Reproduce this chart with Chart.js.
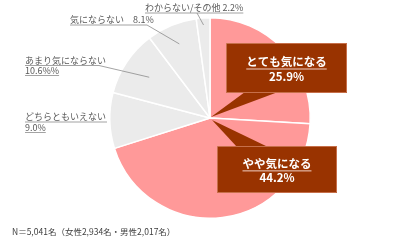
<!DOCTYPE html>
<html><head><meta charset="utf-8">
<script src="https://cdn.jsdelivr.net/npm/chart.js@4.4.0/dist/chart.umd.min.js"></script>
<style>html,body{margin:0;padding:0;background:#fff;}#wrap{width:400px;height:241px;position:relative;}</style>
</head><body>
<div id="wrap"><canvas id="c" width="400" height="241"></canvas></div>
<script>
const categories = ['とても気になる','やや気になる','どちらともいえない','あまり気にならない','気にならない','わからない/その他'];
const values = [25.9, 44.2, 9.0, 10.6, 8.1, 2.2];
const valueLabels = ['25.9%','44.2%','9.0%','10.6%%','8.1%','2.2%'];
const sliceColors = ['#ff9999','#ff9999','#ebebeb','#ebebeb','#ebebeb','#ebebeb'];
const footnote = 'N＝5,041名（女性2,934名・男性2,017名）';

const JP = '"Noto Sans CJK JP","Noto Sans",sans-serif';

function arcPoint(arc, frac) {
  const a = (arc.startAngle + arc.endAngle) / 2;
  return {x: arc.x + Math.cos(a) * arc.outerRadius * frac, y: arc.y + Math.sin(a) * arc.outerRadius * frac};
}

const labelPlugin = {
  id: 'labels',
  afterDraw(chart) {
    const ctx = chart.ctx;
    const arcs = chart.getDatasetMeta(0).data;
    const cx = arcs[0].x, cy = arcs[0].y;
    ctx.save();
    // gray outside labels
    ctx.font = '9px ' + JP;
    ctx.textBaseline = 'middle';
    ctx.textAlign = 'left';
    const gray = '#595959';
    const lineCol = '#8c8c8c';
    function under(x1, x2, y) {
      ctx.strokeStyle = lineCol; ctx.lineWidth = 0.8;
      ctx.beginPath(); ctx.moveTo(x1, y); ctx.lineTo(x2, y); ctx.stroke();
    }
    function leader(x, y, p) {
      ctx.strokeStyle = lineCol; ctx.lineWidth = 0.8;
      ctx.beginPath(); ctx.moveTo(x, y); ctx.lineTo(p.x, p.y); ctx.stroke();
    }
    function txt(s, x, y) {
      ctx.fillStyle = gray; ctx.fillText(s, x, y);
      return ctx.measureText(s).width;
    }
    // わからない/その他
    let w = txt(categories[5] + ' ' + valueLabels[5], 145, 8);
    under(145, 145 + w, 13);
    leader(197, 13, arcPoint(arcs[5], 0.93));
    // 気にならない
    w = txt(categories[4] + '　' + valueLabels[4], 70, 20);
    under(70, 147, 25);
    leader(147, 25, arcPoint(arcs[4], 0.8));
    // あまり気にならない
    w = txt(categories[3], 25, 61);
    under(25, 99, 65.5);
    w = txt(valueLabels[3], 25, 71);
    under(25, 25 + w, 75.5);
    leader(99, 65.5, arcPoint(arcs[3], 0.73));
    // どちらともいえない
    w = txt(categories[2], 25, 117);
    under(25, 107, 122);
    w = txt(valueLabels[2], 25, 128);
    under(25, 25 + w, 132.5);

    // callouts
    const brown = '#993300';
    function callout(bx, by, bw, bh, baseL, baseR, baseY, tip, l1, l2) {
      ctx.fillStyle = brown;
      ctx.beginPath();
      ctx.moveTo(baseL, baseY); ctx.lineTo(tip.x, tip.y); ctx.lineTo(baseR, baseY); ctx.closePath();
      ctx.fill();
      ctx.fillRect(bx, by, bw, bh);
      ctx.strokeStyle = 'rgba(255,190,170,0.55)'; ctx.lineWidth = 0.8;
      ctx.strokeRect(bx + 0.5, by + 0.5, bw - 1, bh - 1);
      ctx.fillStyle = '#ffffff';
      ctx.textAlign = 'center';
      ctx.font = 'bold 11.5px ' + JP;
      const mx = bx + bw / 2;
      ctx.fillText(l1, mx, by + bh * 0.37);
      const lw = ctx.measureText(l1).width;
      ctx.strokeStyle = '#f2d0c4'; ctx.lineWidth = 1;
      ctx.beginPath(); ctx.moveTo(mx - lw / 2, by + bh * 0.37 + 7.5); ctx.lineTo(mx + lw / 2, by + bh * 0.37 + 7.5); ctx.stroke();
      ctx.fillText(l2, mx, by + bh * 0.68);
    }
    callout(226, 43, 121, 50, 245, 278, 92, {x: cx + 1, y: cy - 1}, categories[0], valueLabels[0]);
    callout(217, 146, 120, 47, 237, 268, 147, {x: cx + 2, y: cy + 2}, categories[1], valueLabels[1]);

    // footnote
    ctx.textAlign = 'left';
    ctx.fillStyle = '#404040';
    ctx.font = '8.5px ' + JP;
    ctx.fillText(footnote, 12, 232);
    ctx.restore();
  }
};

new Chart(document.getElementById('c'), {
  type: 'pie',
  data: {
    labels: categories,
    datasets: [{
      data: values,
      backgroundColor: sliceColors,
      borderColor: '#ffffff',
      borderWidth: 1.5
    }]
  },
  options: {
    responsive: false,
    animation: false,
    layout: {padding: {left: 109, right: 89, top: 17, bottom: 22}},
    plugins: {legend: {display: false}, tooltip: {enabled: false}}
  },
  plugins: [labelPlugin]
});
</script>
</body></html>
